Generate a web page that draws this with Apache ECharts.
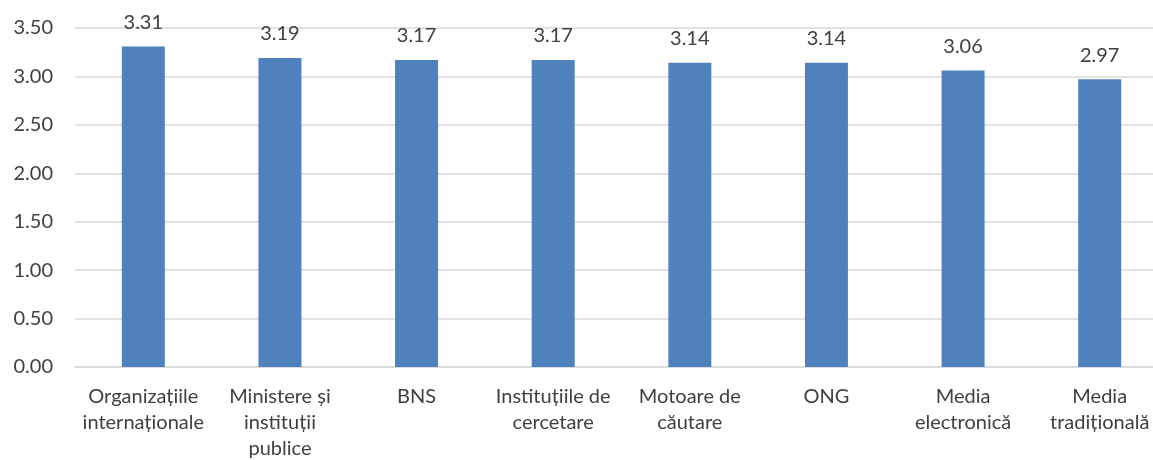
<!DOCTYPE html>
<html>
<head>
<meta charset="utf-8">
<script src="https://cdn.jsdelivr.net/npm/echarts@6/dist/echarts.min.js"></script>
<style>
  html, body { margin: 0; padding: 0; background: #ffffff; }
  #chart { width: 1153px; height: 460px; }
</style>
</head>
<body>
<div id="chart"></div>
<script>
// Sources of information and their average trust score
const categories = [
  'Organizațiile\ninternaționale',
  'Ministere și\ninstituții\npublice',
  'BNS',
  'Instituțiile de\ncercetare',
  'Motoare de\ncăutare',
  'ONG',
  'Media\nelectronică',
  'Media\ntradițională'
];
const scores = [3.31, 3.19, 3.17, 3.17, 3.14, 3.14, 3.06, 2.97];
const yTicks = { min: 0, max: 3.5, interval: 0.5 };

const FONT = 'Lato, "Liberation Sans", sans-serif';
const TEXT = '#404040';
const FS = 20;

const chart = echarts.init(document.getElementById('chart'), null, { renderer: 'canvas' });
chart.setOption({
  animation: false,
  textStyle: { fontFamily: FONT },
  grid: {
    left: 75, top: 28, width: 1093, height: 339,
    containLabel: false,
    outerBoundsMode: 'none'
  },
  xAxis: {
    type: 'category',
    data: categories,
    axisLine: { show: true, lineStyle: { color: '#d9d9d9', width: 1.5 } },
    axisTick: { show: false },
    axisLabel: {
      interval: 0,
      color: TEXT,
      fontFamily: FONT,
      fontSize: FS,
      lineHeight: 26,
      margin: 17,
      hideOverlap: false
    }
  },
  yAxis: {
    type: 'value',
    min: yTicks.min,
    max: yTicks.max,
    interval: yTicks.interval,
    axisLine: { show: false },
    axisTick: { show: false },
    splitLine: { lineStyle: { color: '#d9d9d9', width: 1.5 } },
    axisLabel: {
      color: TEXT,
      fontFamily: FONT,
      fontSize: FS,
      margin: 22,
      formatter: v => v.toFixed(2)
    }
  },
  series: [{
    type: 'bar',
    data: scores,
    barWidth: 43,
    itemStyle: { color: '#4f81bd' },
    label: {
      show: true,
      position: 'top',
      distance: 14,
      color: TEXT,
      fontFamily: FONT,
      fontSize: FS,
      formatter: p => p.value.toFixed(2)
    }
  }]
});
</script>
</body>
</html>
